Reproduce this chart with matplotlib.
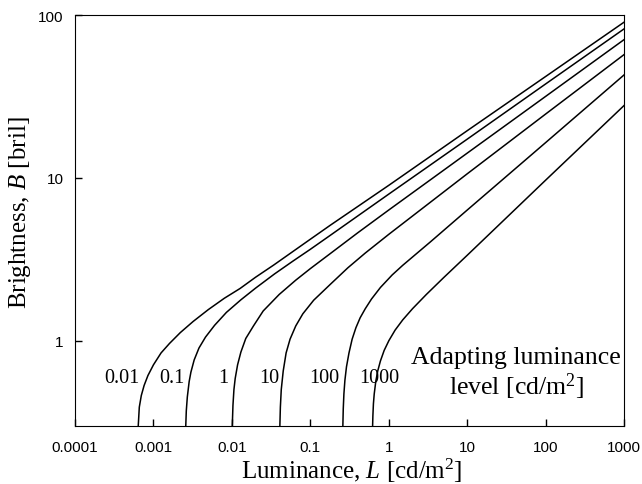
import matplotlib.pyplot as plt
from matplotlib.ticker import FixedLocator, FixedFormatter, NullLocator

plt.rcParams['mathtext.fontset'] = 'custom'
plt.rcParams['mathtext.rm'] = 'Liberation Serif'
plt.rcParams['mathtext.it'] = 'Liberation Serif:italic'

# luminance [cd/m2] and brightness [bril], one pair per adapting level
lum_001 = [6.4e-4, 6.6e-4, 7.0e-4, 7.6e-4, 8.5e-4, 1.0e-3, 1.25e-3, 1.6e-3, 2.2e-3, 3.2e-3,
           5e-3, 8e-3, 0.0127, 0.02, 0.034, 0.09, 0.18, 1, 10, 100, 1000]
bri_001 = [0.3, 0.39, 0.46, 0.53, 0.61, 0.71, 0.84, 0.96, 1.12, 1.31,
           1.55, 1.82, 2.09, 2.45, 2.91, 4.05, 5.12, 9.0, 19.5, 42, 90.6]

lum_01 = [2.58e-3, 2.62e-3, 2.7e-3, 2.85e-3, 3.0e-3, 3.3e-3, 3.8e-3, 4.6e-3, 6e-3, 8.5e-3,
          0.013, 0.02, 0.035, 0.06, 0.1, 0.18, 1, 10, 100, 1000]
bri_01 = [0.3, 0.37, 0.45, 0.56, 0.64, 0.76, 0.90, 1.05, 1.24, 1.49,
          1.78, 2.10, 2.57, 3.08, 3.64, 4.44, 7.95, 17.3, 37.8, 82.4]

lum_1 = [0.0101, 0.0103, 0.0106, 0.011, 0.0118, 0.013, 0.015, 0.0188, 0.025, 0.04,
         0.065, 0.1, 0.18, 0.4, 1, 10, 100, 1000]
bri_1 = [0.3, 0.40, 0.50, 0.585, 0.71, 0.85, 1.03, 1.23, 1.52, 1.92,
         2.35, 2.77, 3.43, 4.59, 6.35, 14.2, 31.7, 70.8]

lum_10 = [0.0408, 0.0414, 0.0425, 0.045, 0.049, 0.055, 0.065, 0.08, 0.11, 0.18,
          0.3, 0.5, 1, 10, 100, 1000]
bri_10 = [0.3, 0.39, 0.50, 0.65, 0.84, 1.02, 1.23, 1.46, 1.77, 2.22,
          2.80, 3.45, 4.5, 10.6, 24.7, 57.3]

lum_100 = [0.259, 0.262, 0.267, 0.275, 0.288, 0.31, 0.34, 0.38, 0.43, 0.5,
           0.6, 0.78, 1.1, 1.5, 3.4, 10, 100, 1000]
bri_100 = [0.3, 0.38, 0.47, 0.57, 0.69, 0.84, 1.02, 1.2, 1.38, 1.57,
           1.8, 2.12, 2.53, 2.9, 4.05, 6.35, 16.5, 43.0]

lum_1000 = [0.62, 0.625, 0.635, 0.65, 0.68, 0.72, 0.78, 0.87, 1.0, 1.2,
            1.5, 2.0, 3.0, 5, 10, 100, 1000]
bri_1000 = [0.3, 0.345, 0.41, 0.47, 0.56, 0.65, 0.75, 0.87, 1.0, 1.16,
            1.34, 1.57, 1.92, 2.44, 3.35, 9.7, 27.9]

curves = [(lum_001, bri_001), (lum_01, bri_01), (lum_1, bri_1),
          (lum_10, bri_10), (lum_100, bri_100), (lum_1000, bri_1000)]

# labels next to each curve: text, luminance position
level_labels = ['0.01', '0.1', '1', '10', '100', '1000']
label_x = [4.0e-4, 1.73e-3, 7.7e-3, 0.0298, 0.150, 0.755]

x_ticks = [0.0001, 0.001, 0.01, 0.1, 1, 10, 100, 1000]
x_ticklabels = ['0.0001', '0.001', '0.01', '0.1', '1', '10', '100', '1000']
y_ticks = [1, 10, 100]
y_ticklabels = ['1', '10', '100']

fig = plt.figure(figsize=(6.42, 4.85), dpi=100)
ax = fig.add_axes([0.1168, 0.1202, 0.8557, 0.8468])

for lum, bri in curves:
    ax.plot(lum, bri, color='black', linewidth=1.1)

ax.set_xscale('log')
ax.set_yscale('log')
ax.set_xlim(0.0001, 1000)
ax.set_ylim(0.3, 100)

ax.xaxis.set_major_locator(FixedLocator(x_ticks))
ax.xaxis.set_major_formatter(FixedFormatter(x_ticklabels))
ax.xaxis.set_minor_locator(NullLocator())
ax.yaxis.set_major_locator(FixedLocator(y_ticks))
ax.yaxis.set_major_formatter(FixedFormatter(y_ticklabels))
ax.yaxis.set_minor_locator(NullLocator())
ax.tick_params(direction='in', length=5, width=1, labelsize=11)
ax.tick_params(axis='x', pad=10)
ax.tick_params(axis='y', pad=8)
for lab in ax.get_xticklabels() + ax.get_yticklabels():
    lab.set_fontfamily('Liberation Sans')

serif = 'Liberation Serif'
for txt, lx in zip(level_labels, label_x):
    ax.text(lx, 0.59, txt, fontsize=14.5, family=serif, ha='center', va='center')

ax.text(0.803, 0.167, 'Adapting luminance', transform=ax.transAxes,
        fontsize=18.5, family=serif, ha='center', va='center')
ax.text(0.803, 0.097, 'level [cd/m$^2$]', transform=ax.transAxes,
        fontsize=18.5, family=serif, ha='center', va='center')

ax.set_xlabel('Luminance, $L$ [cd/m$^2$]', fontsize=18, family=serif)
ax.xaxis.label.set_va('center')
ax.xaxis.set_label_coords(0.504, -0.108)
ax.set_ylabel('Brightness, $B$ [bril]', fontsize=18, family=serif)
ax.yaxis.label.set_va('center')
ax.yaxis.set_label_coords(-0.1, 0.52)

fig.savefig('out.png', dpi=100)
